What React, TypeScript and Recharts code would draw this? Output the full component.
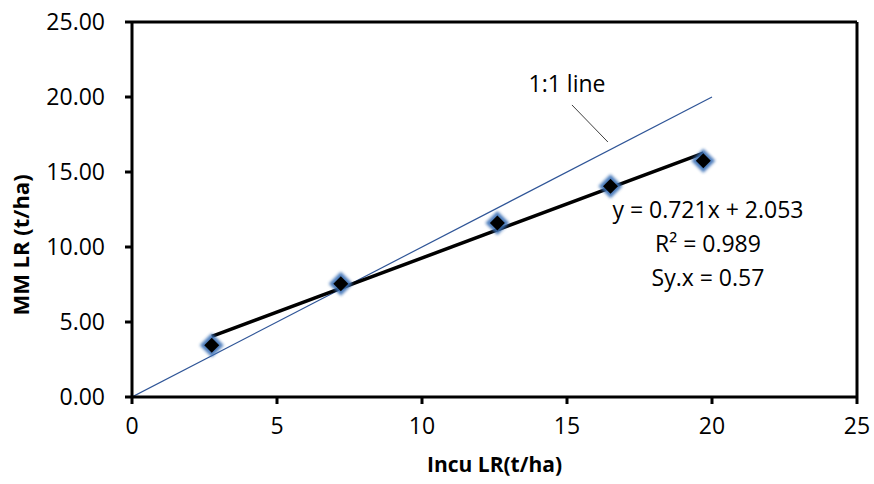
import { ComposedChart, Line, Scatter, XAxis, YAxis, ReferenceLine, ReferenceDot } from "recharts";

// Measured points (Incu LR vs MM LR)
const incuLR = [2.75, 7.2, 12.6, 16.5, 19.7];
const mmLR = [3.45, 7.55, 11.6, 14.05, 15.75];

// Regression line end points and 1:1 line
const trendX = [2.75, 19.7];
const trendY = [4.04, 16.26];
const oneToOneX = [0, 20];
const oneToOneY = [0, 20];

const xTicks = [0, 5, 10, 15, 20, 25];
const yTicks = [0, 5, 10, 15, 20, 25];

const equationLines = ["y = 0.721x + 2.053", "R² = 0.989", "Sy.x = 0.57"];
const equationY = [12.47, 10.2, 7.93];

const FONT = "'Open Sans', 'Liberation Sans', sans-serif";

const points = incuLR.map((x, i) => ({ x, y: mmLR[i] }));
const trend = trendX.map((x, i) => ({ x, y: trendY[i] }));
const oneToOne = oneToOneX.map((x, i) => ({ x, y: oneToOneY[i] }));

// Diamond marker with the blue glow Excel draws
const Diamond = (props: any) => {
  const { cx, cy } = props;
  const d = (s: number) => `M${cx},${cy - s} L${cx + s},${cy} L${cx},${cy + s} L${cx - s},${cy} Z`;
  return (
    <g>
      <defs>
        <filter id="glow" x="-50%" y="-50%" width="200%" height="200%">
          <feGaussianBlur stdDeviation="1.8" />
        </filter>
      </defs>
      <path d={d(12)} fill="#3A6FB5" opacity={0.9} filter="url(#glow)" />
      <path d={d(7.5)} fill="#000" />
    </g>
  );
};

const axisStroke = { stroke: "#000", strokeWidth: 3 };

const App = () => {
  return (
    <div style={{ position: "absolute", left: 0, top: 0 }}>
      <ComposedChart width={874} height={484} margin={{ top: 22, right: 17, bottom: 0, left: 0 }}>
        <XAxis
          type="number"
          dataKey="x"
          domain={[0, 25]}
          ticks={xTicks}
          allowDataOverflow
          axisLine={axisStroke}
          tickLine={axisStroke}
          tickSize={7}
          tickMargin={14}
          height={87}
          tick={{ fill: "#000", fontSize: 23, fontFamily: FONT }}
          label={{ value: "Incu LR(t/ha)", position: "insideBottom", offset: 12, fill: "#000", fontSize: 21, fontWeight: "bold", fontFamily: FONT }}
        />
        <YAxis
          type="number"
          dataKey="y"
          domain={[0, 25]}
          ticks={yTicks}
          allowDataOverflow
          axisLine={axisStroke}
          tickLine={axisStroke}
          tickSize={7}
          tickMargin={20}
          width={132}
          tickFormatter={(v: number) => v.toFixed(2)}
          tick={{ fill: "#000", fontSize: 23, fontFamily: FONT }}
          label={() => (
            <text x={20} y={245} transform="rotate(-90, 20, 245)" textAnchor="middle" dominantBaseline="central" fill="#000" fontSize={22} fontWeight="bold" fontFamily={FONT}>
              MM LR (t/ha)
            </text>
          )}
        />
        <ReferenceLine y={25} stroke="#000" strokeWidth={3} ifOverflow="visible" />
        <ReferenceLine x={25} stroke="#000" strokeWidth={3} ifOverflow="visible" />
        <Line data={oneToOne} dataKey="y" stroke="#2F5597" strokeWidth={1.2} dot={false} isAnimationActive={false} />
        <Line data={trend} dataKey="y" stroke="#000" strokeWidth={3.5} dot={false} isAnimationActive={false} />
        <Scatter data={points} dataKey="y" shape={Diamond} isAnimationActive={false} />
        <ReferenceLine segment={[{ x: 15.17, y: 19.47 }, { x: 16.41, y: 17.0 }]} stroke="#404040" strokeWidth={1} />
        <ReferenceDot
          x={15.0}
          y={20.87}
          r={0}
          fill="none"
          stroke="none"
          label={{ value: "1:1 line", position: "center", fill: "#000", fontSize: 23, fontFamily: FONT }}
        />
        {equationLines.map((t, i) => (
          <ReferenceDot
            key={t}
            x={19.86}
            y={equationY[i]}
            r={0}
            fill="none"
            stroke="none"
            label={{ value: t, position: "center", fill: "#000", fontSize: 23, fontFamily: FONT }}
          />
        ))}
      </ComposedChart>
    </div>
  );
};

export default App;
